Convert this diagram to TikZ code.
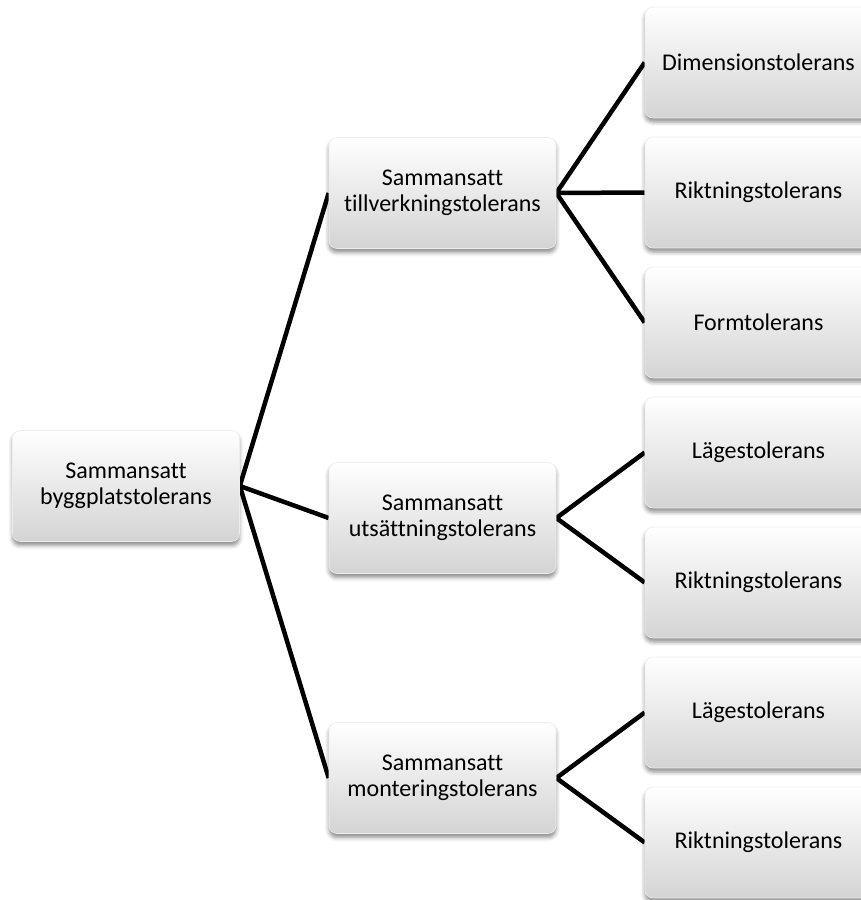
\documentclass[tikz,border=0pt]{standalone}
\usepackage{fontspec}
\setmainfont[Ligatures={NoCommon}]{Carlito}
\usetikzlibrary{shadows.blur,backgrounds}

\tikzset{
  x=1pt, y=-1pt,
  tolbox/.style={
    rounded corners=8pt,
    minimum width=227pt, minimum height=111pt,
    align=center, inner sep=2pt,
    draw=black!7, line width=0.6pt,
    top color=white, bottom color=black!17,
    blur shadow={shadow xshift=0pt, shadow yshift=-4pt,
                 shadow blur radius=4pt, shadow opacity=45},
    font=\fontsize{24}{25.7}\selectfont
  },
  link/.style={line width=4.5pt, black}
}

\begin{document}
\begin{tikzpicture}
\path[use as bounding box, clip] (0,0) rectangle (861,900);

% root
\node[tolbox] (root) at (126,486) {Sammansatt\\byggplatstolerans};

% middle level
\node[tolbox] (tillv) at (442.5,193) {Sammansatt\\tillverkningstolerans};
\node[tolbox] (utsat) at (442.5,518) {Sammansatt\\utsättningstolerans};
\node[tolbox] (monte) at (442.5,778) {Sammansatt\\monteringstolerans};

% leaves
\node[tolbox] (dim)  at (758.5,62.5)  {Dimensionstolerans};
\node[tolbox] (rik1) at (758.5,192.5) {Riktningstolerans};
\node[tolbox] (form) at (758.5,322.5) {Formtolerans};
\node[tolbox] (lag1) at (758.5,452.5) {Lägestolerans};
\node[tolbox] (rik2) at (758.5,582.5) {Riktningstolerans};
\node[tolbox] (lag2) at (758.5,712.5) {Lägestolerans};
\node[tolbox] (rik3) at (758.5,842.5) {Riktningstolerans};

\begin{scope}[on background layer]
  \draw[link] (root.east) -- (tillv.west);
  \draw[link] (root.east) -- (utsat.west);
  \draw[link] (root.east) -- (monte.west);
  \draw[link] (tillv.east) -- (dim.west);
  \draw[link] (tillv.east) -- (rik1.west);
  \draw[link] (tillv.east) -- (form.west);
  \draw[link] (utsat.east) -- (lag1.west);
  \draw[link] (utsat.east) -- (rik2.west);
  \draw[link] (monte.east) -- (lag2.west);
  \draw[link] (monte.east) -- (rik3.west);
\end{scope}
\end{tikzpicture}
\end{document}
